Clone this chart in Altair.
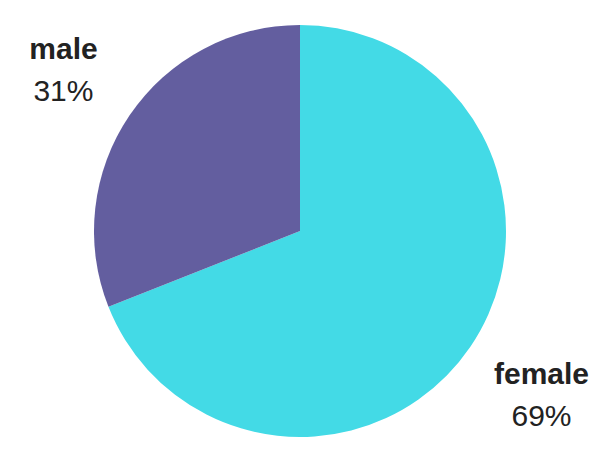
import altair as alt
import pandas as pd

categories = ["female", "male"]
values = [69, 31]
colors = ["#43DAE6", "#635E9F"]

df = pd.DataFrame({
    "category": categories,
    "value": values,
    "pct": [f"{v}%" for v in values],
})

color = alt.Color("category:N", scale=alt.Scale(domain=categories, range=colors), legend=None)

pie = alt.Chart(df).mark_arc(outerRadius=206, stroke=None).encode(
    theta=alt.Theta("value:Q", stack=True),
    order=alt.Order("category:N"),
    color=color,
)

lab = alt.Chart(df).transform_joinaggregate(
    total="sum(value)"
).transform_window(
    cum="sum(value)", sort=[alt.SortField("category", order="ascending")]
).transform_calculate(
    frac="(datum.cum - datum.value / 2) / datum.total"
)

layers = [pie]
for cat, rad in [("female", 292), ("male", 286)]:
    sub = lab.transform_filter(alt.datum.category == cat).encode(
        theta=alt.Theta("frac:Q", stack=None, scale=alt.Scale(domain=[0, 1]))
    )
    layers.append(sub.mark_text(radius=rad, dy=-20, font="Liberation Sans", fontSize=30,
                                fontWeight="bold", color="#222222", baseline="middle",
                                align="center").encode(text="category:N"))
    layers.append(sub.mark_text(radius=rad, dy=22, font="Liberation Sans", fontSize=30,
                                color="#222222", baseline="middle",
                                align="center").encode(text="pct:N"))

chart = alt.layer(*layers).resolve_scale(theta="independent").properties(
    width=584, height=446, autosize=alt.AutoSizeParams(type="none"), padding=0
).configure_view(stroke=None)

chart.save("out.html", embed_options={"renderer": "svg", "actions": False})
